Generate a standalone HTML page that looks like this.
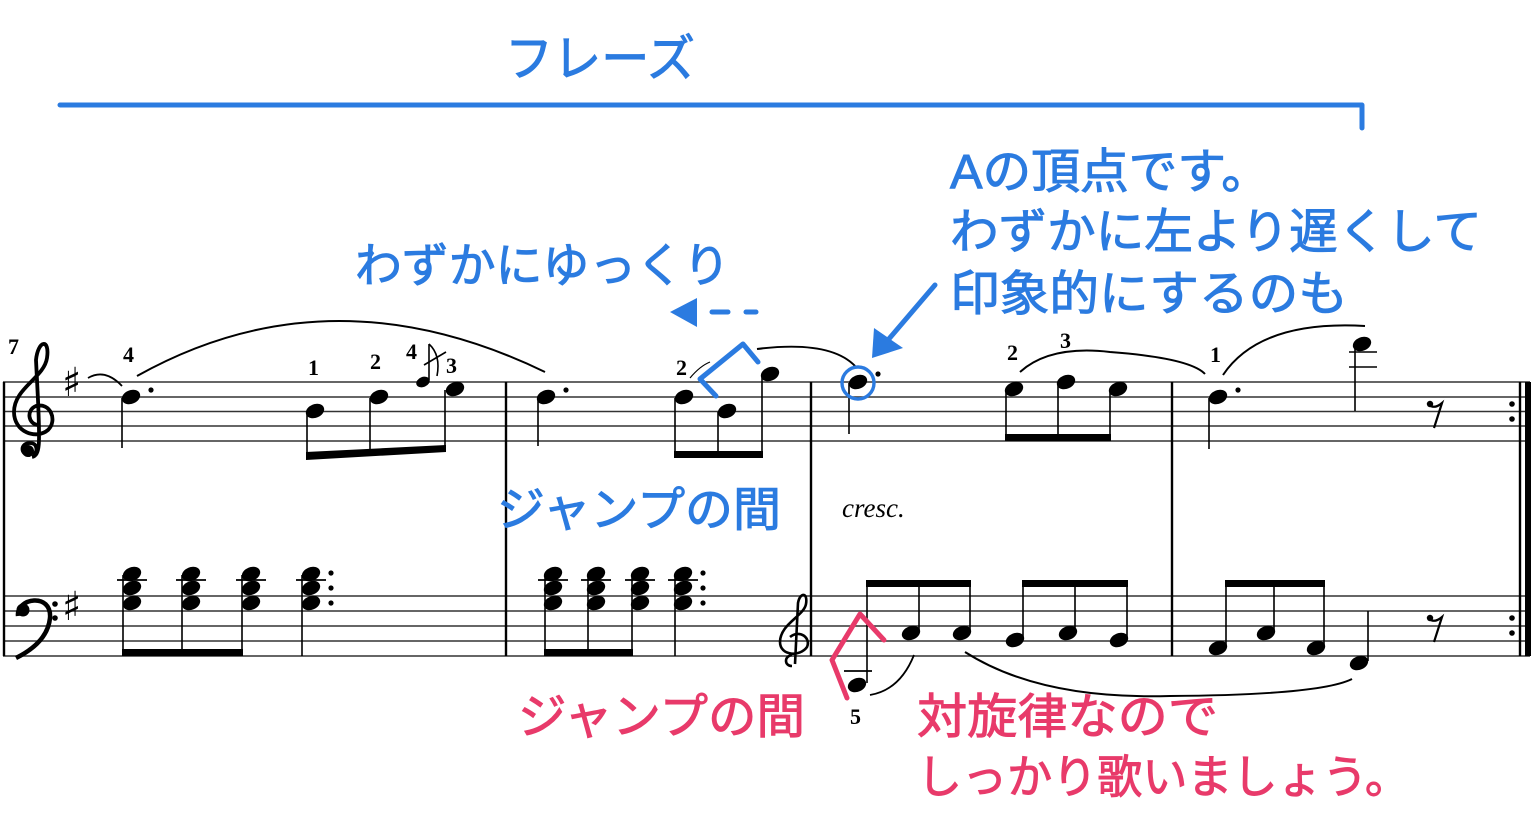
<!DOCTYPE html>
<html><head><meta charset="utf-8"><style>
html,body{margin:0;padding:0;background:#fff;}
svg{display:block;}
.jp{font-family:"Liberation Sans","Noto Sans CJK JP",sans-serif;}
.fg{font-family:"Liberation Serif",serif;font-weight:bold;font-size:22px;}
</style></head><body>
<svg width="1536" height="840" viewBox="0 0 1536 840" xmlns="http://www.w3.org/2000/svg">
<defs>
<ellipse id="h" cx="0" cy="0" rx="9.5" ry="6.8" transform="rotate(-22)" fill="#000"/>
</defs>
<g stroke="#333" stroke-width="1.6">
<line x1="3" y1="382" x2="1530" y2="382"/><line x1="3" y1="397" x2="1530" y2="397"/><line x1="3" y1="411.5" x2="1530" y2="411.5"/><line x1="3" y1="426" x2="1530" y2="426"/><line x1="3" y1="441" x2="1530" y2="441"/>
<line x1="3" y1="596" x2="1530" y2="596"/><line x1="3" y1="611" x2="1530" y2="611"/><line x1="3" y1="626" x2="1530" y2="626"/><line x1="3" y1="641" x2="1530" y2="641"/><line x1="3" y1="656" x2="1530" y2="656"/>
</g>
<g stroke="#000" stroke-width="2.4">
<line x1="4" y1="382" x2="4" y2="656"/>
<line x1="506" y1="382" x2="506" y2="656"/>
<line x1="811" y1="382" x2="811" y2="656"/>
<line x1="1172" y1="382" x2="1172" y2="656"/>
<line x1="1520" y1="382" x2="1520" y2="656"/>
</g>
<rect x="1525" y="382" width="6" height="274" fill="#000"/>
<g fill="#000"><circle cx="1512" cy="404" r="2.8"/><circle cx="1512" cy="419" r="2.8"/><circle cx="1512" cy="618" r="2.8"/><circle cx="1512" cy="633" r="2.8"/></g>
<text x="8" y="354" class="fg" font-size="17">7</text>
<!-- treble clef -->
<path d="M30 455 C20 455 20 443 30 443 C38 443 38 452 33 455 M32 457 C40 455 40 445 38 400 L36 360 C38 340 50 338 47 358 C44 378 14 388 14 412 C14 432 36 440 48 430 C58 420 50 402 36 406 C26 410 28 424 38 425" fill="none" stroke="#000" stroke-width="3.8"/>
<circle cx="28" cy="451" r="6" fill="#000"/>
<!-- bass clef -->
<path d="M18 616 C16 598 52 592 50 618 C48 638 32 650 16 658" fill="none" stroke="#000" stroke-width="4.5"/>
<circle cx="23" cy="610" r="6.5" fill="#000"/><circle cx="55" cy="604" r="2.8" fill="#000"/><circle cx="55" cy="618" r="2.8" fill="#000"/>
<g font-family="DejaVu Sans,sans-serif" font-size="40" fill="#000"><text x="62" y="396">♯</text><text x="62" y="620">♯</text></g>
<!-- treble clef in bass -->
<path d="M792 666 C784 666 784 656 792 655 M795 664 L798 603 C800 592 808 592 806 604 C804 616 780 624 780 642 C780 656 800 657 807 647 C811 638 800 629 790 637" fill="none" stroke="#000" stroke-width="2.6"/>
<!-- treble m1 -->
<path d="M88 378 Q105 368 122 386" fill="none" stroke="#000" stroke-width="1.8"/>
<use href="#h" x="131" y="397"/><circle cx="151" cy="390" r="2.6"/>
<line x1="122" y1="398" x2="122" y2="448" stroke="#000" stroke-width="1.6"/>
<text x="123" y="362" class="fg">4</text>
<path d="M137 376 Q330 268 545 372" fill="none" stroke="#000" stroke-width="2"/>
<use href="#h" x="315" y="411"/><use href="#h" x="379" y="397"/><use href="#h" x="455" y="389"/>
<ellipse cx="423" cy="382" rx="7" ry="5" transform="rotate(-22 423 382)" fill="#000"/>
<g stroke="#000" stroke-width="1.6"><line x1="307" y1="412" x2="307" y2="456"/><line x1="370" y1="398" x2="370" y2="453"/><line x1="445" y1="390" x2="445" y2="449"/>
<line x1="429" y1="344" x2="429" y2="380"/><path d="M429 344 Q441 355 437 376" fill="none"/><line x1="424" y1="365" x2="446" y2="352"/></g>
<polygon points="306,452 446,445 446,452 306,460" fill="#000"/>
<text x="308" y="375" class="fg">1</text><text x="370" y="369" class="fg">2</text><text x="406" y="359" class="fg">4</text><text x="446" y="373" class="fg">3</text>
<!-- m2 -->
<use href="#h" x="546" y="397"/><circle cx="566" cy="390" r="2.6"/>
<line x1="538" y1="398" x2="538" y2="446" stroke="#000" stroke-width="1.6"/>
<use href="#h" x="684" y="397"/><use href="#h" x="727" y="411"/><use href="#h" x="770" y="374"/>
<g stroke="#000" stroke-width="1.6"><line x1="675" y1="398" x2="675" y2="456"/><line x1="718" y1="412" x2="718" y2="456"/><line x1="762" y1="375" x2="762" y2="456"/>
<path d="M690 378 Q700 366 710 362" fill="none" stroke-width="1.2"/></g>
<rect x="674" y="451" width="89" height="7" fill="#000"/>
<text x="676" y="375" class="fg">2</text>
<path d="M757 349 Q830 340 855 366" fill="none" stroke="#000" stroke-width="2"/>
<!-- m3 -->
<use href="#h" x="858" y="382"/><circle cx="878" cy="374" r="2.6"/>
<line x1="849" y1="383" x2="849" y2="434" stroke="#000" stroke-width="1.6"/>
<circle cx="858" cy="383" r="16" fill="none" stroke="#2b7be0" stroke-width="3.4"/>
<use href="#h" x="1014" y="389"/><use href="#h" x="1066" y="382"/><use href="#h" x="1118" y="389"/>
<g stroke="#000" stroke-width="1.6"><line x1="1006" y1="390" x2="1006" y2="440"/><line x1="1058" y1="383" x2="1058" y2="440"/><line x1="1110" y1="390" x2="1110" y2="440"/></g>
<rect x="1005" y="434" width="106" height="7" fill="#000"/>
<text x="1007" y="360" class="fg">2</text><text x="1060" y="348" class="fg">3</text>
<path d="M1020 372 Q1050 345 1110 352 Q1190 358 1205 374" fill="none" stroke="#000" stroke-width="2"/>
<!-- m4 -->
<use href="#h" x="1218" y="397"/><circle cx="1238" cy="390" r="2.6"/>
<line x1="1209" y1="398" x2="1209" y2="449" stroke="#000" stroke-width="1.6"/>
<text x="1210" y="362" class="fg">1</text>
<path d="M1223 375 Q1260 320 1365 326" fill="none" stroke="#000" stroke-width="2"/>
<use href="#h" x="1362" y="344"/>
<g stroke="#000" stroke-width="1.6"><line x1="1349" y1="352" x2="1377" y2="352"/><line x1="1349" y1="367" x2="1377" y2="367"/><line x1="1355" y1="345" x2="1355" y2="411"/></g>
<g stroke="#000" stroke-width="2.2" fill="none"><path d="M1428 404 Q1434 410 1442 403 L1434 428"/><path d="M1428 618 Q1434 624 1442 617 L1434 642"/></g>
<circle cx="1430" cy="404" r="3.2" fill="#000"/><circle cx="1430" cy="618" r="3.2" fill="#000"/>
<!-- bass -->
<g id="ch">
<use href="#h" x="132" y="574"/><use href="#h" x="132" y="588"/><use href="#h" x="132" y="603"/>
<line x1="117" y1="580" x2="147" y2="580" stroke="#000" stroke-width="1.8"/>
</g>
<use href="#ch" x="59"/><use href="#ch" x="119"/><use href="#ch" x="179"/>
<circle cx="331" cy="573" r="2.6"/><circle cx="331" cy="588" r="2.6"/><circle cx="331" cy="603" r="2.6"/>
<g stroke="#000" stroke-width="1.6"><line x1="123" y1="575" x2="123" y2="656"/><line x1="182" y1="575" x2="182" y2="656"/><line x1="242" y1="575" x2="242" y2="656"/><line x1="302" y1="575" x2="302" y2="656"/></g>
<rect x="122" y="649" width="121" height="7" fill="#000"/>
<use href="#ch" x="421"/><use href="#ch" x="464"/><use href="#ch" x="508"/><use href="#ch" x="551"/>
<circle cx="703" cy="573" r="2.6"/><circle cx="703" cy="588" r="2.6"/><circle cx="703" cy="603" r="2.6"/>
<g stroke="#000" stroke-width="1.6"><line x1="545" y1="575" x2="545" y2="656"/><line x1="588" y1="575" x2="588" y2="656"/><line x1="632" y1="575" x2="632" y2="656"/><line x1="675" y1="575" x2="675" y2="656"/></g>
<rect x="544" y="649" width="89" height="7" fill="#000"/>
<!-- m3 bass -->
<use href="#h" x="857" y="685"/><line x1="844" y1="671" x2="872" y2="671" stroke="#000" stroke-width="1.8"/>
<use href="#h" x="911" y="633"/><use href="#h" x="962" y="633"/><use href="#h" x="1015" y="640"/><use href="#h" x="1068" y="633"/><use href="#h" x="1119" y="640"/>
<g stroke="#000" stroke-width="1.6"><line x1="867" y1="583" x2="867" y2="683"/><line x1="919" y1="583" x2="919" y2="631"/><line x1="970" y1="583" x2="970" y2="631"/><line x1="1023" y1="583" x2="1023" y2="638"/><line x1="1075" y1="583" x2="1075" y2="631"/><line x1="1127" y1="583" x2="1127" y2="638"/></g>
<rect x="866" y="580" width="105" height="7" fill="#000"/><rect x="1022" y="580" width="106" height="7" fill="#000"/>
<text x="850" y="724" class="fg">5</text>
<path d="M870 695 Q900 690 914 655" fill="none" stroke="#000" stroke-width="1.8"/>
<path d="M965 652 Q1040 700 1170 696 Q1320 695 1352 679" fill="none" stroke="#000" stroke-width="2"/>
<text x="842" y="517" font-family="Liberation Serif,serif" font-style="italic" font-size="27">cresc.</text>
<!-- m4 bass -->
<use href="#h" x="1218" y="648"/><use href="#h" x="1266" y="633"/><use href="#h" x="1316" y="648"/><use href="#h" x="1359" y="663"/>
<g stroke="#000" stroke-width="1.6"><line x1="1226" y1="583" x2="1226" y2="646"/><line x1="1274" y1="583" x2="1274" y2="631"/><line x1="1324" y1="583" x2="1324" y2="646"/><line x1="1368" y1="611" x2="1368" y2="661"/></g>
<rect x="1225" y="580" width="100" height="7" fill="#000"/>
<!-- annotations -->
<g fill="#2b7be0" stroke="#2b7be0" stroke-width="1" class="jp">
<text x="505" y="76" font-size="50" textLength="190" lengthAdjust="spacingAndGlyphs">フレーズ</text>
<text x="950" y="188" font-size="48" textLength="320" lengthAdjust="spacingAndGlyphs">Aの頂点です。</text>
<text x="950" y="248" font-size="48" textLength="532" lengthAdjust="spacingAndGlyphs">わずかに左より遅くして</text>
<text x="950" y="310" font-size="48" textLength="398" lengthAdjust="spacingAndGlyphs">印象的にするのも</text>
<text x="355" y="282" font-size="47" textLength="375" lengthAdjust="spacingAndGlyphs">わずかにゆっくり</text>
<text x="497" y="526" font-size="47" textLength="284" lengthAdjust="spacingAndGlyphs">ジャンプの間</text>
</g>
<g fill="#e83a6a" stroke="#e83a6a" stroke-width="1" class="jp">
<text x="518" y="733" font-size="48" textLength="287" lengthAdjust="spacingAndGlyphs">ジャンプの間</text>
<text x="917" y="733" font-size="48" textLength="301" lengthAdjust="spacingAndGlyphs">対旋律なので</text>
<text x="917" y="793" font-size="46" textLength="493" lengthAdjust="spacingAndGlyphs">しっかり歌いましょう。</text>
</g>
<g stroke="#2b7be0" stroke-width="5" fill="none" stroke-linecap="round" stroke-linejoin="round">
<path d="M60 105 L1362 105 L1362 128"/>
<path d="M716 396 L700 379 L743 344 L758 362"/>
<line x1="935" y1="285" x2="888" y2="340"/>
<line x1="712" y1="312" x2="728" y2="312"/><line x1="746" y1="312" x2="756" y2="312"/>
</g>
<polygon points="872,358 874,328 903,348" fill="#2b7be0"/>
<polygon points="670,312 697,298 697,327" fill="#2b7be0"/>
<path d="M847 698 L832 660 L860 614 L884 640" fill="none" stroke="#e83a6a" stroke-width="5" stroke-linecap="round" stroke-linejoin="round"/>
</svg>
</body></html>
